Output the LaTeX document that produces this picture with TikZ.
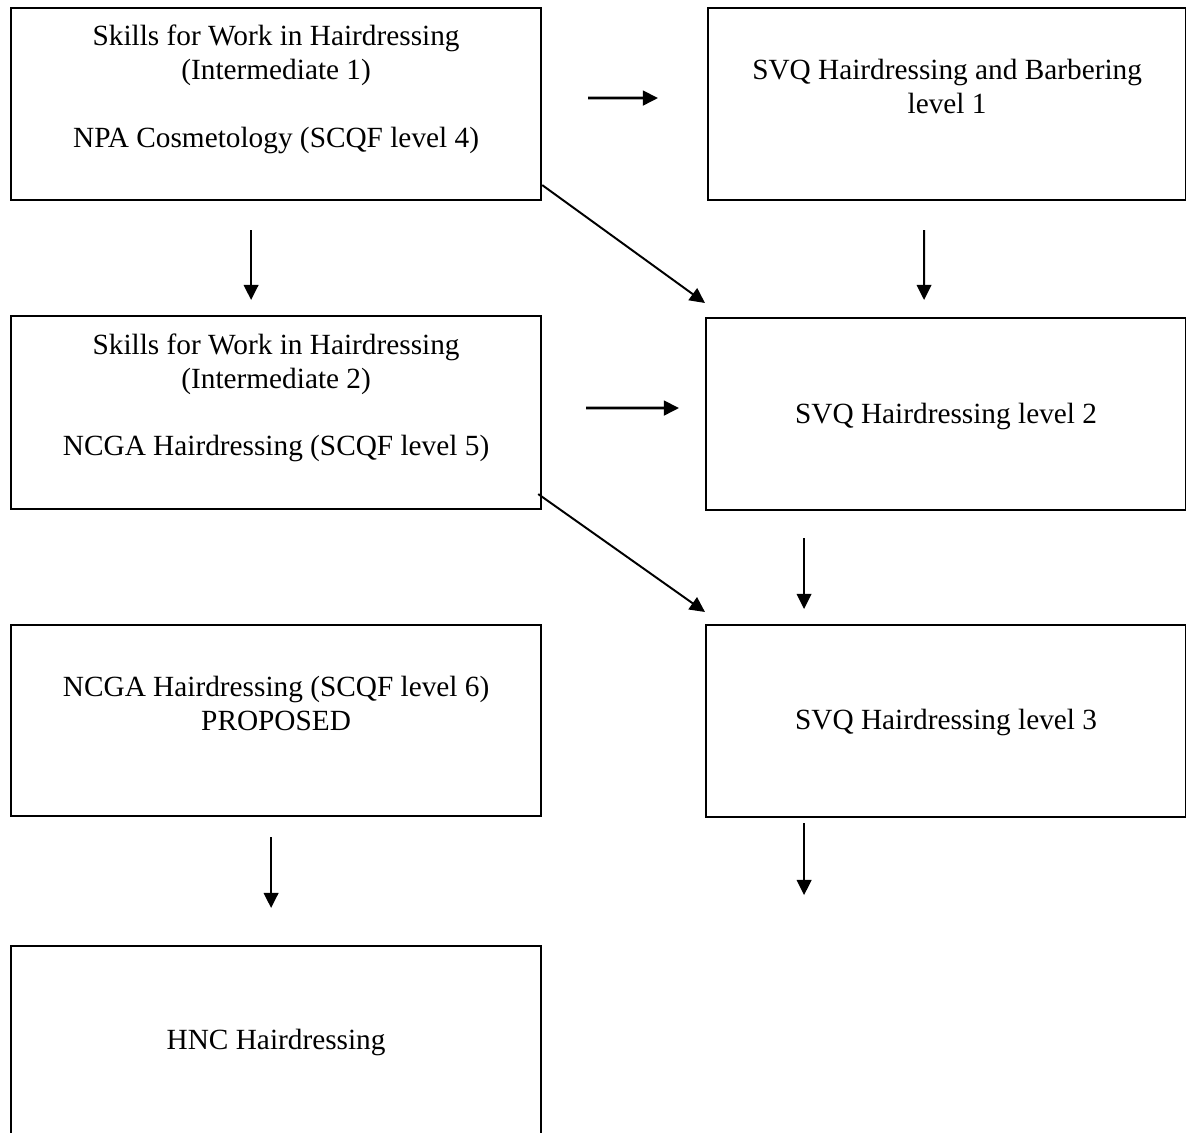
\documentclass[tikz,border=0pt]{standalone}
\usepackage{fontspec}
\setmainfont{Liberation Serif}
\usepackage{tikz}
\usetikzlibrary{calc, arrows.meta, positioning}

\tikzset{
	box/.style={draw, line width=0.9pt, inner sep=0pt, anchor=north west, align=center, minimum width=#1},
	box/.default=217.1pt,
	arr/.style={line width=0.8pt, -{Triangle[length=6.2pt, width=6pt]}},
	harr/.style={arr, line width=1.1pt}
}

\begin{document}
\begin{tikzpicture}[x=0.4096pt, y=-0.4096pt, font=\fontsize{12}{13.9}\selectfont]
				\useasboundingbox (0,0) rectangle (1186,1133);
				
				% left column
				\node [box, text height=56.9pt, text depth=21.7pt] (sfw1) at (10,7) {Skills for Work in Hairdressing\\(Intermediate 1)\\[13.9pt]NPA Cosmetology (SCQF level 4)};
				\node [box, text height=57.3pt, text depth=21.7pt] (sfw2) at (10,315) {Skills for Work in Hairdressing\\(Intermediate 2)\\[13.9pt]NCGA Hairdressing (SCQF level 5)};
				\node [box, text height=43.0pt, text depth=35.2pt] (ncga6) at (10,624) {NCGA Hairdressing (SCQF level 6)\\PROPOSED};
				\node [box, text height=42.2pt, text depth=36.5pt] (hnc) at (10,945) {HNC Hairdressing};
				
				% right column
				\node [box=195.8pt, text height=43.0pt, text depth=35.6pt] (svq1) at (707,7) {SVQ Hairdressing and Barbering\\level 1};
				\node [box=196.6pt, text height=43.0pt, text depth=35.6pt] (svq2) at (705,317) {SVQ Hairdressing level 2};
				\node [box=196.6pt, text height=42.6pt, text depth=36.0pt] (svq3) at (705,624) {SVQ Hairdressing level 3};
				
				\draw [harr] ($(sfw1.east)+(46,-6)$) -- ($(svq1.west)+(-49,-6)$);
				\draw [arr] ($(sfw1.south east)+(0,-16)$) -- ($(svq2.north west)+(0,-14)$);
				\draw [arr] ($(sfw1.south)+(-25,29)$) -- ($(sfw2.north)+(-25,-15)$);
				\draw [arr] ($(svq1.south)+(-23,29)$) -- ($(svq2.north)+(-22,-17)$);
				
				\draw [harr] ($(sfw2.east)+(44,-4.5)$) -- ($(svq2.west)+(-26,-6)$);
				\draw [arr] ($(sfw2.south east)+(-4,-16)$) -- ($(svq3.north west)+(0,-12)$);
				\draw [arr] ($(svq2.south)+(-142,27)$) -- ($(svq3.north)+(-142,-15)$);
				
				\draw [arr] ($(ncga6.south)+(-5,20)$) -- ($(hnc.north)+(-5,-37)$);
				\draw [arr] ($(svq3.south)+(-142,5)$) -- ($(svq3.south)+(-142,77)$);
\end{tikzpicture}
\end{document}
